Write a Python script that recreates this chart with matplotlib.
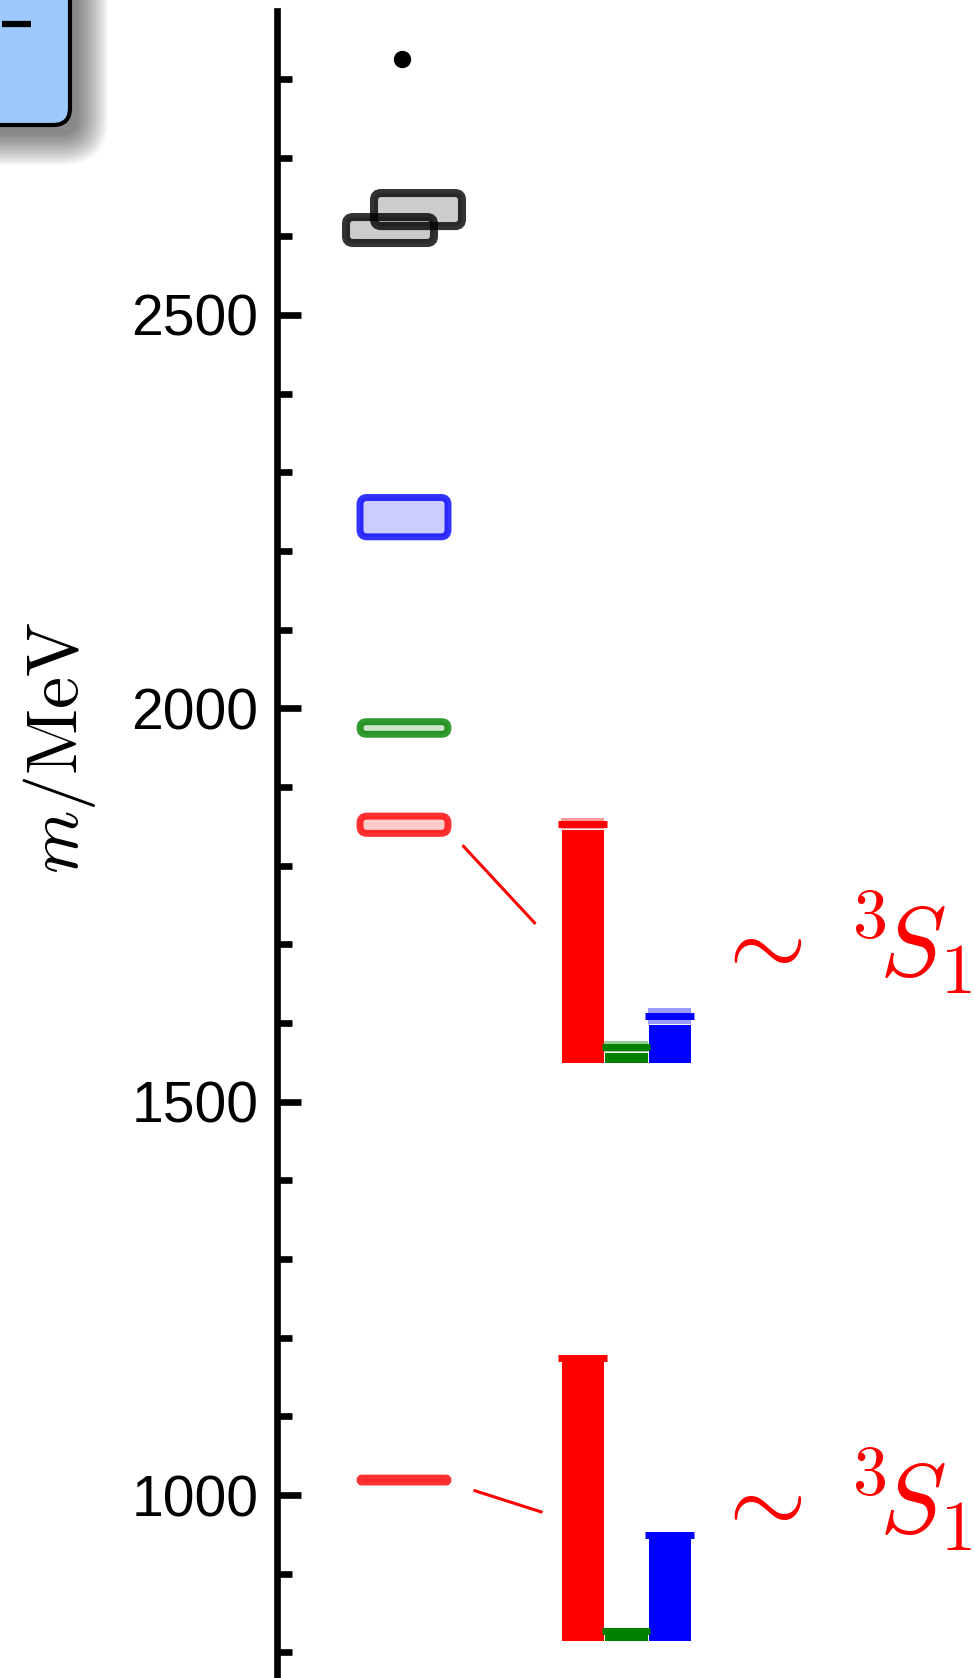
import matplotlib
matplotlib.use("Agg")
import matplotlib.pyplot as plt
from matplotlib.patches import FancyBboxPatch
from matplotlib.ticker import MultipleLocator, FixedLocator
from matplotlib.lines import Line2D

plt.rcParams['mathtext.fontset'] = 'cm'

# ---------------- data ----------------
# level boxes: (x position [px offset from axis], mass center [MeV], half-height [MeV], colour)
level_x = [113.5, 141.5, 127.5, 127.5, 127.5, 127.5]
level_mass = [2608, 2634, 2243, 1975, 1852, 1019]
level_halfwidth = [16.5, 21.0, 25.0, 8.0, 11.0, 2.5]
level_colors = ['black', 'black', 'blue', 'green', 'red', 'red']
level_lw = [5.8, 5.8, 5.0, 5.0, 5.0, 5.0]

dot_x = [125]
dot_mass = [2825]

# connectors (x in px offset, mass in MeV)
conn_upper_x = [186, 259]
conn_upper_m = [1826, 1726]
conn_lower_x = [197, 266]
conn_lower_m = [1006, 978]

# composition bars: value and error (fraction)
bar_colors = ['red', 'green', 'blue']
bar_band_colors = ['#ff9999', '#99cc99', '#9999ff']
upper_vals = [0.798, 0.055, 0.158]
upper_errs = [0.018, 0.018, 0.027]
lower_vals = [0.945, 0.032, 0.352]
lower_errs = [0.0, 0.0, 0.0]

yticks_major = [1000, 1500, 2000, 2500]
ylabel = r'$m/\mathrm{MeV}$'
state_label = r'$\sim\;{}^3\!S_1$'

# ---------------- figure ----------------
W, H = 975, 1678
fig = plt.figure(figsize=(W / 100, H / 100), dpi=100)

ax_left_px, ax_top_px = 276.5, 11
ax = fig.add_axes([ax_left_px / W, 0, (W - ax_left_px) / W, (H - ax_top_px) / H])
ymin, ymax = 767.4, 2886.4
xmax = W - ax_left_px
ax.set_xlim(0, xmax)
ax.set_ylim(ymin, ymax)
ax.patch.set_alpha(0)

for s in ['top', 'right', 'bottom']:
    ax.spines[s].set_visible(False)
ax.spines['left'].set_linewidth(4.8)
ax.set_xticks([])
ax.yaxis.set_major_locator(FixedLocator(yticks_major))
ax.yaxis.set_minor_locator(MultipleLocator(100))
ax.tick_params(axis='y', which='major', direction='in', length=17, width=4.8, pad=13,
               labelsize=41)
ax.tick_params(axis='y', which='minor', direction='in', length=11, width=4.8)
for t in ax.get_yticklabels():
    t.set_fontfamily('Liberation Sans')

ax.set_ylabel(ylabel, fontsize=52, va='center')
ax.yaxis.set_label_coords((60 - ax_left_px) / xmax, (H - 748) / (H - ax_top_px))

# pixels per unit
ppx = 1.0
ppy = (H - ax_top_px) / (ymax - ymin)
aspect = ppx / ppy

for x, m, hh, c, lw in zip(level_x, level_mass, level_halfwidth, level_colors, level_lw):
    hw = 44
    r = min(7.0, hh * ppy)
    p = FancyBboxPatch((x - hw, m - hh), 2 * hw, 2 * hh,
                       boxstyle=f"round,pad=0,rounding_size={r}",
                       mutation_aspect=aspect,
                       facecolor=matplotlib.colors.to_rgba(c, 0.2),
                       edgecolor=matplotlib.colors.to_rgba(c, 0.8),
                       linewidth=lw, zorder=3)
    ax.add_patch(p)

ax.plot(dot_x, dot_mass, 'o', color='black', markersize=11.5, zorder=4)

ax.plot(conn_upper_x, conn_upper_m, color='red', lw=2.2, solid_capstyle='butt')
ax.plot(conn_lower_x, conn_lower_m, color='red', lw=2.2, solid_capstyle='butt')

# state labels
ax.text(434.5, 1659.0, state_label, color='red', fontsize=72, ha='left', va='baseline')
ax.text(434.5, 951.0, state_label, color='red', fontsize=72, ha='left', va='baseline')


def draw_bars(base_px, vals, errs):
    bx = fig.add_axes([561 / W, (H - base_px) / H, 130 / W, 300 / H])
    bx.set_xlim(-0.5, 2.5)
    bx.set_ylim(0, 1)
    bx.axis('off')
    xs = [0, 1, 2]
    for x, v, e, c, bc in zip(xs, vals, errs, bar_colors, bar_band_colors):
        bx.bar(x, v - e, width=1, color=c, edgecolor='white', linewidth=0.7, zorder=2)
        if e > 0:
            bx.bar(x, 2 * e, bottom=v - e, width=1, color=bc, linewidth=0, zorder=2)
        bx.hlines(v, x - 0.56, x + 0.56, color=c, lw=5, zorder=3, clip_on=False)


draw_bars(1063, upper_vals, upper_errs)
draw_bars(1641, lower_vals, lower_errs)

# ---------------- legend-like box at top-left (cropped) ----------------
bx0, by0 = -120, -120
bx1, by1 = 70, 125
for i in range(16):
    g = i * 2.0
    sh = FancyBboxPatch(((bx0 + 8 - g) / W, 1 - (by1 + 10 + g) / H),
                        (bx1 - bx0 + 2 * g) / W, (by1 - by0 + 2 * g) / H,
                        boxstyle=f"round,pad=0,rounding_size={(17 + g) / W}",
                        mutation_aspect=W / H,
                        transform=fig.transFigure, facecolor='black', alpha=0.035,
                        edgecolor='none')
    fig.patches.append(sh)
lb = FancyBboxPatch((bx0 / W, 1 - by1 / H), (bx1 - bx0) / W, (by1 - by0) / H,
                    boxstyle=f"round,pad=0,rounding_size={17 / W}",
                    mutation_aspect=W / H,
                    transform=fig.transFigure, facecolor='#9dc9ff', edgecolor='black',
                    linewidth=3)
fig.patches.append(lb)
fig.lines.append(Line2D([2 / W, 31 / W], [1 - 24 / H, 1 - 24 / H], transform=fig.transFigure,
                        color='black', lw=4.5, solid_capstyle='butt'))

fig.savefig('out.png', dpi=100)
